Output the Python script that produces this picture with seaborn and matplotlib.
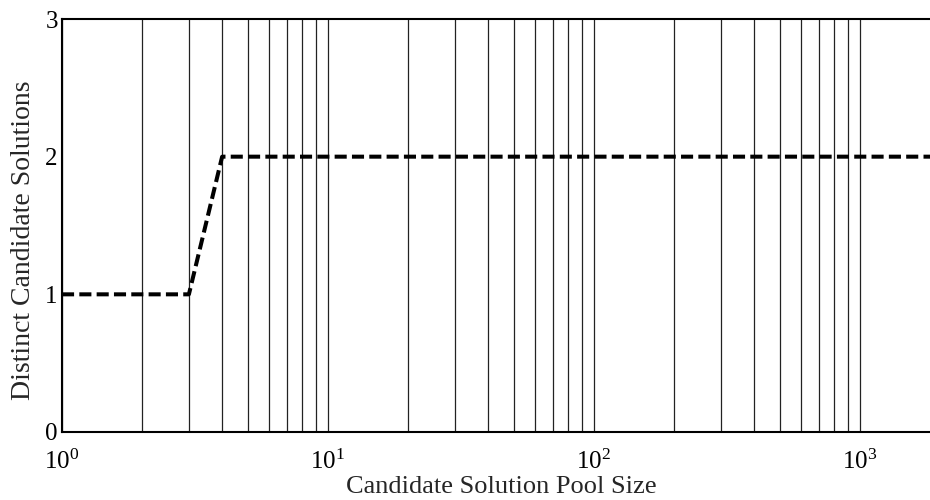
import matplotlib
matplotlib.use("Agg")
import matplotlib.pyplot as plt
import seaborn as sns
import pandas as pd
import numpy as np
from matplotlib.ticker import LogLocator

pool_size = [1, 2, 3, 4, 5, 6, 7, 8, 9, 10, 20, 30, 40, 50, 60, 70, 80, 90,
             100, 200, 300, 400, 500, 600, 700, 800, 900, 1000, 2000]
distinct = [1, 1, 1, 2, 2, 2, 2, 2, 2, 2, 2, 2, 2, 2, 2, 2, 2, 2,
            2, 2, 2, 2, 2, 2, 2, 2, 2, 2, 2]
y_ticks = [0, 1, 2, 3]
x_label = "Candidate Solution Pool Size"
y_label = "Distinct Candidate Solutions"

sns.set_style("white")
plt.rcParams['font.family'] = ['Liberation Serif', 'DejaVu Serif']
plt.rcParams['mathtext.fontset'] = 'custom'
plt.rcParams['mathtext.rm'] = 'Liberation Serif'
plt.rcParams['mathtext.it'] = 'Liberation Serif:italic'
plt.rcParams['mathtext.default'] = 'regular'

W, H = 930, 500
fig = plt.figure(figsize=(W / 100, H / 100), dpi=100)
left, right, top, bottom = 62, 940, 19, 432
ax = fig.add_axes([left / W, 1 - bottom / H, (right - left) / W, (bottom - top) / H])

df = pd.DataFrame({"pool": pool_size, "distinct": distinct})
sns.lineplot(data=df, x="pool", y="distinct", ax=ax, color="black",
             linewidth=2.9, linestyle=(0, (3.0, 1.3)), zorder=3)

ax.set_xscale("log")
ax.set_xlim(1, 2000)
ax.set_ylim(0, 3)
ax.set_yticks(y_ticks)
ax.xaxis.set_major_locator(LogLocator(base=10, numticks=10))
ax.xaxis.set_minor_locator(LogLocator(base=10, subs=np.arange(2, 10), numticks=20))
ax.grid(which="both", axis="x", color="#222222", linewidth=0.9, linestyle="-")
ax.grid(False, axis="y")
for s in ax.spines.values():
    s.set_color("black")
    s.set_linewidth(1.5)
    s.set_visible(True)
ax.tick_params(which="both", direction="in", top=False, right=True, colors="black",
               labelsize=18)
ax.tick_params(axis="y", pad=3)
ax.tick_params(axis="x", pad=13)
ax.tick_params(which="major", length=6, width=1.2)
ax.tick_params(which="minor", length=4, width=1)
ax.set_xlabel(x_label, fontsize=19, labelpad=1)
ax.set_ylabel(y_label, fontsize=20)
ax.yaxis.set_label_coords((36 - left) / (right - left), (bottom - 240) / (bottom - top))
fig.savefig("out.png", dpi=100)
